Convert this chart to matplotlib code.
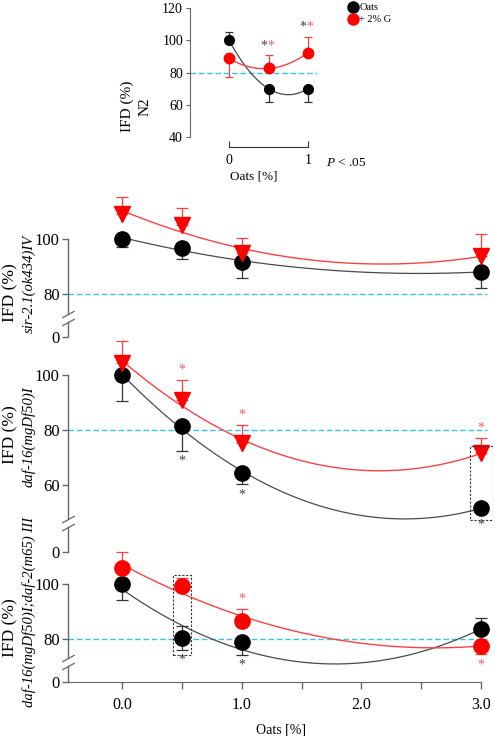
import numpy as np
import matplotlib
matplotlib.use('Agg')
import matplotlib.pyplot as plt
from matplotlib.path import Path
from matplotlib.patches import Rectangle
from matplotlib.lines import Line2D
from matplotlib.ticker import MultipleLocator, FormatStrFormatter

plt.rcParams['font.family'] = ['Liberation Serif', 'DejaVu Serif']
plt.rcParams['mathtext.fontset'] = 'custom'
plt.rcParams['mathtext.it'] = 'Liberation Serif:italic'
plt.rcParams['mathtext.rm'] = 'Liberation Serif'

# ---- data ----
# N2 panel, oats 0 / 0.5 / 1 %
n2_x = [0, 0.5, 1]
n2_oats = [100, 70, 70]
n2_oats_lo = [0, 8.4, 8.4]
n2_oats_hi = [5, 0, 0]
n2_glc = [88.7, 82.5, 92.3]
n2_glc_lo = [11.8, 0, 0]
n2_glc_hi = [0, 8.1, 10]

# mutant panels, oats 0 / 0.5 / 1 / 3 %
oats_x = [0, 0.5, 1, 3]

sir_oats = [100.2, 96.8, 91.6, 88.1]
sir_oats_lo = [3, 4.1, 5.8, 6]
sir_oats_hi = [0, 0, 0, 0]
sir_glc = [109.3, 105.1, 95, 93.8]
sir_glc_lo = [0, 0, 0, 0]
sir_glc_hi = [5.9, 6.1, 5.4, 8]

daf16_oats = [100, 81.5, 64.7, 51.7]
daf16_oats_lo = [9.4, 8.8, 4.3, 0]
daf16_oats_hi = [0, 0, 0, 0]
daf16_glc = [104.5, 91.2, 75.4, 71.7]
daf16_glc_lo = [0, 0, 0, 0]
daf16_glc_hi = [8.2, 7, 6.4, 5.5]

dd_oats = [100, 80.5, 79, 83.5]
dd_oats_lo = [5.8, 4.5, 4.8, 0]
dd_oats_hi = [0, 4.2, 0, 4.1]
dd_glc = [106, 99.3, 86.7, 77.6]
dd_glc_lo = [0, 0, 0, 3.1]
dd_glc_hi = [5.7, 2.9, 4.2, 0]

# significance marks: (index, series, side)  side +1 above, -1 below
sir_stars = []
daf16_stars = [(1, 'oats', -1), (2, 'oats', -1), (3, 'oats', -1),
               (1, 'glc', 1), (2, 'glc', 1), (3, 'glc', 1)]
dd_stars = [(1, 'oats', -1), (2, 'oats', -1), (2, 'glc', 1), (3, 'glc', -1)]

BLACK = 'black'
RED = '#ff0000'
LINE_BLACK = '#4a4a4a'
LINE_RED = '#ff4040'
STAR_RED = '#ff5a5a'
AXIS = '#666666'
CYAN = '#33c3f0'

W, H = 495, 736
fig = plt.figure(figsize=(W / 100, H / 100), dpi=100)


def rect(left, top, right, bottom):
    return [left / W, 1 - bottom / H, (right - left) / W, (bottom - top) / H]


def fit(x, y, xs):
    c = np.polyfit(x, y, 2)
    return np.polyval(c, xs)


# ---------------- top panel (N2) ----------------
ax0 = fig.add_axes(rect(190, 8, 317, 137))
ax0.set_xlim(-0.494, 1.114)
ax0.set_ylim(40, 120)
xs = np.linspace(0, 1, 100)
ax0.plot(xs, fit(n2_x, n2_oats, xs), color=LINE_BLACK, lw=0.9, zorder=1)
ax0.plot(xs, fit(n2_x, n2_glc, xs), color=LINE_RED, lw=1, zorder=1)
ax0.errorbar(n2_x, n2_oats, yerr=[n2_oats_lo, n2_oats_hi], fmt='none',
             ecolor='#333333', elinewidth=0.9, capsize=3, capthick=0.9, zorder=2)
ax0.errorbar(n2_x, n2_glc, yerr=[n2_glc_lo, n2_glc_hi], fmt='none',
             ecolor=LINE_RED, elinewidth=0.9, capsize=3, capthick=0.9, zorder=2)
ax0.plot(n2_x, n2_oats, 'o', color=BLACK, ms=7, zorder=3, clip_on=False)
ax0.plot(n2_x, n2_glc, 'o', color=RED, ms=7.5, zorder=3, clip_on=False)
ax0.axhline(80, color=CYAN, lw=1, ls=(0, (4, 2)), zorder=0)

for i in [1, 2]:
    top = n2_glc[i] + n2_glc_hi[i]
    ax0.annotate('*', (n2_x[i], top), xytext=(-1, 2), textcoords='offset points',
                 ha='right', va='bottom', color='#444444', fontsize=10)
    ax0.annotate('*', (n2_x[i], top), xytext=(-1, 2), textcoords='offset points',
                 ha='left', va='bottom', color=STAR_RED, fontsize=10)

for s in ['top', 'right']:
    ax0.spines[s].set_visible(False)
ax0.spines['left'].set_color(AXIS)
ax0.spines['bottom'].set_color('#333333')
ax0.spines['bottom'].set_position(('outward', 7))
ax0.spines['bottom'].set_bounds(0, 1)
ax0.set_xticks([0, 1])
ax0.set_xticklabels(['0', '1'])
ax0.set_yticks([40, 60, 80, 100, 120])
ax0.tick_params(axis='y', direction='out', length=3, color=AXIS, pad=2, labelsize=10)
ax0.tick_params(axis='x', direction='in', length=4, color='#333333', pad=5, labelsize=10)
ax0.set_xlabel('Oats [%]', fontsize=9.5, labelpad=3)
fig.text(127 / W, 1 - 106 / H, 'IFD (%)', rotation=90, ha='center', va='center', fontsize=11)
fig.text(145 / W, 1 - 107 / H, 'N2', rotation=90, ha='center', va='center', fontsize=11)
fig.text(326 / W, 1 - 163 / H, '$P$ < .05', ha='left', va='center', fontsize=9.5)

handles = [Line2D([], [], marker='o', ls='none', color=BLACK, ms=8),
           Line2D([], [], marker='o', ls='none', color=RED, ms=8)]
fig.legend(handles, ['Oats', '+ 2% G'], loc='upper left',
           bbox_to_anchor=(348 / W, 1 - 3 / H), frameon=False, fontsize=7.5,
           handlelength=1.0, handletextpad=0.1, labelspacing=0.25,
           borderpad=0, borderaxespad=0)

# ---------------- lower panels with broken y axes ----------------
# the axis is linear above the break; the bottom of each axis carries the "0" tick
PPU = 2.75  # pixels per y unit

panels = [
    dict(zero=337, ybot=64.4, ytop=117, brk=71.3, yticks=[80, 100],
         oats=sir_oats, oats_lo=sir_oats_lo, oats_hi=sir_oats_hi,
         glc=sir_glc, glc_lo=sir_glc_lo, glc_hi=sir_glc_hi,
         glc_marker='v', stars=sir_stars, boxes=[],
         label='sir-2.1(ok434)IV', lab_y=(293, 284)),
    dict(zero=552, ybot=35.8, ytop=115, brk=46.3, yticks=[60, 80, 100],
         oats=daf16_oats, oats_lo=daf16_oats_lo, oats_hi=daf16_oats_hi,
         glc=daf16_glc, glc_lo=daf16_glc_lo, glc_hi=daf16_glc_hi,
         glc_marker='v', stars=daf16_stars, boxes=[(2.91, 3.10, 47.6, 74.2)],
         label='daf-16(mgDf50)I', lab_y=(435, 437)),
    dict(zero=682, ybot=64.4, ytop=113, brk=71.7, yticks=[80, 100],
         oats=dd_oats, oats_lo=dd_oats_lo, oats_hi=dd_oats_hi,
         glc=dd_glc, glc_lo=dd_glc_lo, glc_hi=dd_glc_hi,
         glc_marker='o', stars=dd_stars, boxes=[(0.43, 0.58, 74.2, 103.3)],
         label='daf-16(mgDf50)I;daf-2(m65) III', lab_y=(628, 612)),
]

slash = Path([(-1, -0.55), (1, 0.55)])
xs = np.linspace(0, 3, 200)

for k, p in enumerate(panels):
    top_px = p['zero'] - (p['ytop'] - p['ybot']) * PPU
    ax = fig.add_axes(rect(68, top_px, 493, p['zero']))
    ax.set_ylim(p['ybot'], p['ytop'])
    ax.set_xlim(-0.451, 3.1)
    ax.patch.set_visible(False)

    ax.plot(xs, fit(oats_x, p['oats'], xs), color=LINE_BLACK, lw=0.9, zorder=1)
    ax.plot(xs, fit(oats_x, p['glc'], xs), color=LINE_RED, lw=1, zorder=1)
    ax.errorbar(oats_x, p['oats'], yerr=[p['oats_lo'], p['oats_hi']], fmt='none',
                ecolor='#333333', elinewidth=0.9, capsize=4, capthick=0.9, zorder=2)
    ax.errorbar(oats_x, p['glc'], yerr=[p['glc_lo'], p['glc_hi']], fmt='none',
                ecolor=LINE_RED, elinewidth=0.9, capsize=4, capthick=0.9, zorder=2)
    ax.plot(oats_x, p['oats'], 'o', color=BLACK, ms=11, zorder=3, clip_on=False)
    ax.plot(oats_x, p['glc'], p['glc_marker'], color=RED, ms=11, zorder=4, clip_on=False)
    ax.axhline(80, xmax=0.985, color=CYAN, lw=1, ls=(0, (4, 2)), zorder=0)

    for i, series, side in p['stars']:
        y = p[series][i]
        err = p[series + '_hi'][i] if side > 0 else p[series + '_lo'][i]
        color = '#444444' if series == 'oats' else STAR_RED
        pad = 7.5 if err > 0 else 12
        ax.annotate('*', (oats_x[i], y + side * err), xytext=(0, side * pad),
                    textcoords='offset points', ha='center', va='center',
                    color=color, fontsize=10)

    for x0, x1, y0, y1 in p['boxes']:
        ax.add_patch(Rectangle((x0, y0), x1 - x0, y1 - y0, fill=False,
                               ec='#333333', lw=0.8, ls=(0, (2, 1.5)), zorder=5))

    # left axis drawn by hand with a break
    for s in ['top', 'right', 'left']:
        ax.spines[s].set_visible(False)
    b_lo, b_hi = p['brk'] - 1.4, p['brk'] + 1.4
    yt = ax.get_yaxis_transform()
    ax.plot([0, 0], [p['ybot'], b_lo], color=AXIS, lw=1, transform=yt, clip_on=False)
    ax.plot([0, 0], [b_hi, 100], color=AXIS, lw=1, transform=yt, clip_on=False)
    ax.plot([0, 0], [b_lo, b_hi], ls='none', marker=slash, ms=9, mew=0.9,
            mfc='none', mec=AXIS, transform=yt, clip_on=False)

    ax.set_yticks([p['ybot']] + p['yticks'])
    ax.set_yticklabels(['0'] + [str(t) for t in p['yticks']])
    ax.tick_params(axis='y', direction='out', length=4, width=1, color=AXIS,
                   pad=2, labelsize=12)

    if k < 2:
        ax.spines['bottom'].set_visible(False)
        ax.tick_params(axis='x', bottom=False, labelbottom=False)
    else:
        ax.spines['bottom'].set_color(AXIS)
        ax.spines['bottom'].set_bounds(-0.451, 3)
        ax.xaxis.set_major_locator(MultipleLocator(1))
        ax.xaxis.set_minor_locator(MultipleLocator(0.5))
        ax.xaxis.set_major_formatter(FormatStrFormatter('%.1f'))
        ax.tick_params(axis='x', which='both', direction='out', length=5, width=1,
                       color=AXIS, pad=6, labelsize=11.5)
        ax.set_xlabel('Oats [%]', fontsize=10, labelpad=7)

    fig.text(10 / W, 1 - p['lab_y'][0] / H, 'IFD (%)', rotation=90,
             ha='center', va='center', fontsize=12.5)
    fig.text(29 / W, 1 - p['lab_y'][1] / H, p['label'], rotation=90,
             ha='center', va='center', fontsize=10.5, style='italic')

fig.savefig('out.png', dpi=100)
